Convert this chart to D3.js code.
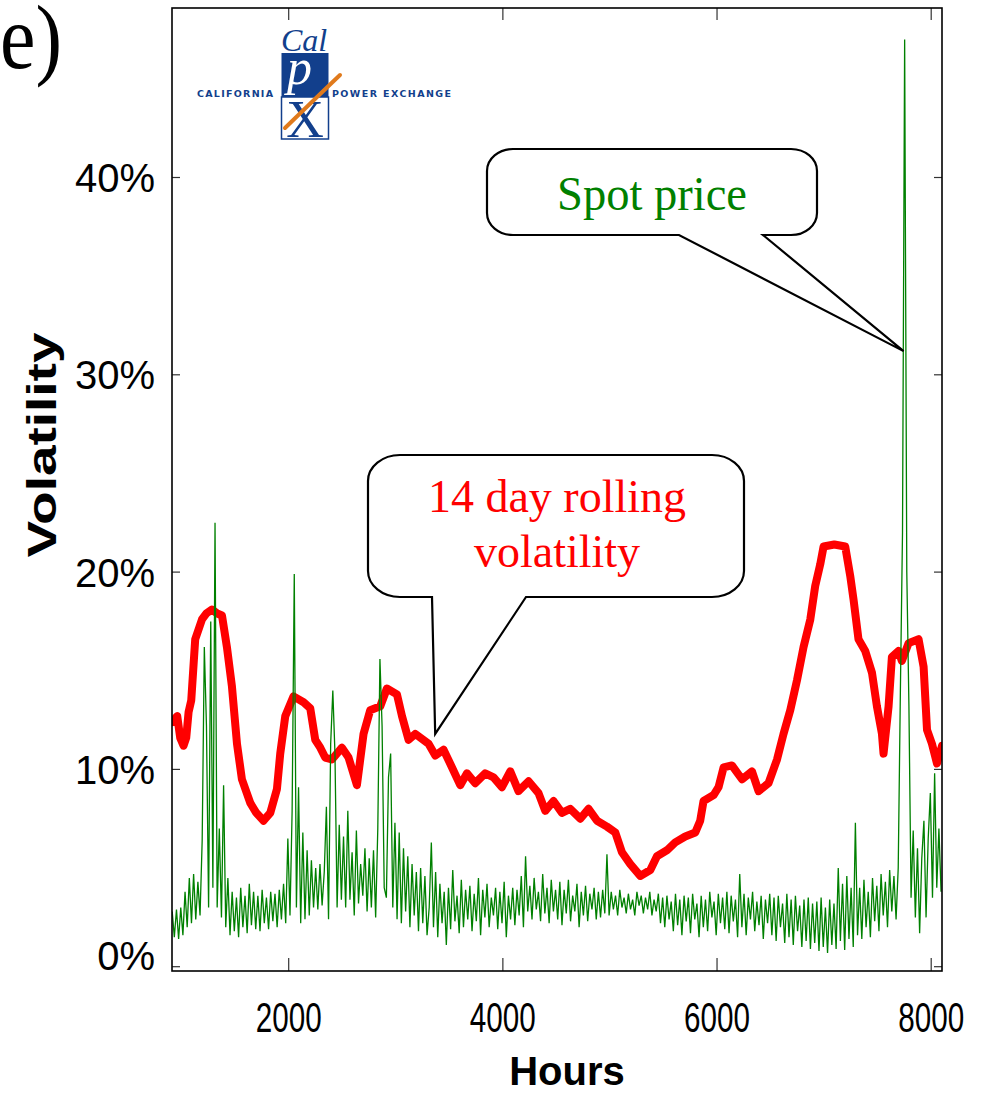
<!DOCTYPE html>
<html>
<head>
<meta charset="utf-8">
<script src="https://cdn.jsdelivr.net/npm/d3@7"></script>
<style>
  html, body { margin: 0; padding: 0; background: #fff; }
  svg { display: block; }
</style>
</head>
<body>
<svg id="chart" width="1008" height="1093"></svg>
<script>
// 14 day rolling volatility (%)
var rollingHours = [912, 959, 987, 1018, 1043, 1065, 1090, 1127, 1190, 1230, 1283, 1333, 1377, 1423, 1470,
  1517, 1563, 1641, 1697, 1765, 1828, 1890, 1921, 1968, 2045, 2139, 2201, 2248, 2295, 2341, 2404, 2497,
  2559, 2637, 2699, 2761, 2855, 2917, 3011, 3058, 3119, 3182, 3306, 3369, 3446, 3525, 3602, 3665, 3742,
  3835, 3913, 3991, 4069, 4146, 4240, 4333, 4396, 4473, 4552, 4629, 4723, 4800, 4879, 4972, 5050, 5112,
  5190, 5283, 5377, 5439, 5532, 5610, 5703, 5797, 5843, 5874, 5968, 6014, 6061, 6139, 6233, 6326, 6388,
  6481, 6560, 6621, 6684, 6746, 6808, 6871, 6917, 6964, 6995, 7095, 7197, 7244, 7275, 7321, 7384, 7447,
  7493, 7540, 7555, 7602, 7633, 7695, 7726, 7789, 7882, 7929, 7961, 8007, 8054, 8101];
var rollingVol = [12.4, 12.7, 11.6, 11.2, 11.6, 12.9, 13.5, 16.6, 17.6, 17.9, 18.1, 17.9, 17.8, 16.2, 14.2,
  11.3, 9.5, 8.3, 7.8, 7.4, 7.8, 9.0, 10.8, 12.7, 13.7, 13.4, 13.1, 11.5, 11.1, 10.6, 10.5, 11.1,
  10.6, 9.2, 11.8, 13.0, 13.2, 14.1, 13.8, 12.7, 11.5, 11.8, 11.3, 10.7, 11.0, 10.1, 9.2, 9.8, 9.3,
  9.8, 9.6, 9.1, 9.9, 8.9, 9.4, 8.8, 7.9, 8.4, 7.8, 8.0, 7.5, 8.0, 7.4, 7.1, 6.8, 5.8,
  5.2, 4.6, 4.9, 5.6, 5.9, 6.3, 6.6, 6.8, 7.4, 8.4, 8.7, 9.1, 10.1, 10.2, 9.5, 9.9, 8.9,
  9.3, 10.5, 11.8, 13.0, 14.5, 16.2, 17.6, 19.3, 20.4, 21.3, 21.4, 21.3, 19.8, 18.6, 16.6, 16.0, 14.9,
  13.2, 11.8, 10.8, 13.2, 15.7, 16.0, 15.5, 16.4, 16.6, 15.2, 12.0, 11.3, 10.3, 11.2];

// spot price volatility (%), one reading every 20 hours from hour 912
var spotFirstHour = 912;
var spotStepHours = 20;
var spotVol = [
  2.8, 1.5, 2.9, 1.4, 3.0, 1.6, 3.8, 2.0, 4.5, 2.2, 4.7, 2.4, 4.3, 2.6, 6.4, 16.2, 12.2, 3.0, 17.5, 4.0,
  22.5, 3.0, 7.0, 2.5, 9.2, 2.0, 4.5, 1.6, 3.8, 1.8, 3.5, 1.5, 4.0, 2.0, 3.6, 1.7, 4.2, 2.1, 3.8, 1.9,
  3.6, 1.8, 3.9, 2.2, 3.5, 1.9, 3.8, 2.3, 3.7, 2.0, 3.9, 2.4, 4.2, 2.2, 6.5, 2.6, 7.9, 19.9, 3.0, 9.1,
  2.2, 6.8, 2.4, 5.9, 2.6, 5.4, 3.0, 5.0, 2.9, 5.2, 3.1, 4.8, 8.1, 2.4, 11.3, 14.0, 10.8, 3.0, 7.2, 3.4,
  6.6, 3.0, 7.9, 3.4, 5.8, 2.6, 6.9, 3.2, 5.2, 3.6, 6.0, 2.8, 5.5, 3.0, 5.9, 2.5, 7.0, 15.6, 12.2, 4.0,
  3.5, 9.6, 10.8, 3.0, 7.3, 2.4, 6.8, 2.2, 6.0, 2.8, 5.6, 2.0, 5.2, 2.6, 4.8, 1.8, 5.0, 2.2, 4.6, 1.6,
  3.0, 6.3, 2.0, 4.8, 1.5, 4.2, 2.2, 3.8, 1.1, 4.0, 1.9, 4.9, 2.3, 3.6, 1.7, 4.4, 2.0, 3.9, 2.4, 4.1,
  1.8, 3.7, 2.3, 4.5, 1.6, 3.9, 2.5, 4.2, 2.0, 3.5, 2.6, 4.0, 1.9, 3.8, 2.2, 4.3, 1.5, 3.6, 2.4, 4.0,
  2.1, 3.9, 2.6, 4.6, 2.0, 5.6, 2.8, 4.1, 2.4, 4.5, 2.9, 3.8, 2.3, 4.7, 2.7, 4.0, 2.2, 4.4, 2.8, 3.9,
  2.4, 4.3, 2.1, 3.9, 2.7, 4.4, 2.3, 3.6, 2.8, 4.2, 2.0, 3.8, 2.6, 4.1, 2.3, 3.7, 2.9, 4.0, 2.4, 3.8,
  2.5, 3.9, 2.7, 5.7, 2.6, 3.8, 2.9, 3.6, 2.6, 3.9, 3.0, 3.5, 2.7, 3.7, 2.9, 3.4, 2.6, 3.8, 3.1, 3.6,
  2.7, 3.5, 2.9, 3.8, 2.6, 3.4, 2.8, 3.7, 2.2, 3.5, 2.0, 3.6, 2.4, 3.3, 1.8, 3.7, 2.1, 3.4, 1.6, 3.6,
  2.3, 3.5, 1.7, 3.7, 2.4, 3.2, 1.5, 3.6, 2.0, 3.4, 1.8, 3.8, 2.5, 3.3, 1.6, 3.7, 2.2, 3.5, 1.9, 3.8,
  1.7, 3.6, 2.3, 3.4, 1.5, 4.7, 2.0, 3.7, 1.6, 3.5, 2.4, 3.8, 1.8, 3.3, 2.1, 3.6, 1.4, 3.4, 2.2, 3.7,
  1.6, 3.5, 1.3, 3.6, 2.0, 3.2, 1.2, 3.7, 1.5, 3.4, 1.1, 3.6, 1.8, 3.1, 1.0, 3.4, 1.3, 3.5, 0.9, 3.2,
  1.2, 3.3, 0.8, 3.5, 1.0, 3.0, 0.7, 3.4, 1.1, 3.2, 0.9, 5.0, 1.3, 4.2, 0.85, 4.6, 1.4, 4.0, 1.0, 7.3,
  1.6, 4.0, 1.4, 4.4, 2.0, 3.8, 1.5, 4.5, 2.3, 4.1, 1.8, 4.7, 2.6, 4.3, 2.0, 4.9, 2.8, 4.6, 2.4, 5.0,
  13.9, 22.0, 47.0, 20.0, 13.2, 3.5, 6.9, 2.5, 6.0, 1.7, 5.5, 7.4, 2.5, 6.5, 8.8, 3.5, 9.8, 4.0, 7.0, 3.8
];

var xTicks = [2000, 4000, 6000, 8000];
var yTicks = [0, 10, 20, 30, 40];

(function() {
  'use strict';

  var svg = d3.select("#chart");
  var plot = {left: 172, right: 942, top: 8, bottom: 971};

  var x = d3.scaleLinear().domain([2000, 8000]).range([288.7, 931.2]);
  var y = d3.scaleLinear().domain([0, 40]).range([966.7, 177.5]);

  svg.append("rect").attr("width", 1008).attr("height", 1093).attr("fill", "#fff");

  svg.append("clipPath").attr("id", "clip")
    .append("rect")
    .attr("x", plot.left).attr("y", plot.top)
    .attr("width", plot.right - plot.left).attr("height", plot.bottom - plot.top);

  // ticks, all pointing inward
  var axes = svg.append("g").attr("stroke", "#333").attr("stroke-width", 1.2);
  xTicks.forEach(function(t) {
    axes.append("line").attr("x1", x(t)).attr("x2", x(t)).attr("y1", plot.bottom).attr("y2", plot.bottom - 13);
    axes.append("line").attr("x1", x(t)).attr("x2", x(t)).attr("y1", plot.top).attr("y2", plot.top + 12);
  });
  yTicks.forEach(function(t) {
    axes.append("line").attr("x1", plot.left).attr("x2", plot.left + 8).attr("y1", y(t)).attr("y2", y(t));
    axes.append("line").attr("x1", plot.right).attr("x2", plot.right - 8).attr("y1", y(t)).attr("y2", y(t));
  });

  svg.append("g")
    .selectAll("text")
    .data(yTicks)
    .join("text")
    .attr("x", 155)
    .attr("y", function(d) { return y(d) + (d === 0 ? -11 : 0); })
    .attr("dy", "0.36em")
    .attr("text-anchor", "end")
    .style("font", "40px 'Liberation Sans', Arial, sans-serif")
    .text(function(d) { return d + "%"; });

  svg.append("g")
    .selectAll("text")
    .data(xTicks)
    .join("text")
    .attr("x", function(d) { return x(d); })
    .attr("y", 1032)
    .attr("text-anchor", "middle")
    .attr("textLength", 66)
    .attr("lengthAdjust", "spacingAndGlyphs")
    .style("font", "43px 'Liberation Sans', Arial, sans-serif")
    .text(function(d) { return d; });

  svg.append("text")
    .attr("x", 567).attr("y", 1085)
    .attr("text-anchor", "middle")
    .style("font", "bold 40px 'Liberation Sans', Arial, sans-serif")
    .text("Hours");

  svg.append("text")
    .attr("transform", "translate(56,445) rotate(-90)")
    .attr("text-anchor", "middle")
    .attr("textLength", 225)
    .attr("lengthAdjust", "spacingAndGlyphs")
    .style("font", "bold 40px 'Liberation Sans', Arial, sans-serif")
    .text("Volatility");

  svg.append("text")
    .attr("x", 0).attr("y", 68)
    .attr("textLength", 62)
    .attr("lengthAdjust", "spacingAndGlyphs")
    .style("font", "90px 'Liberation Serif', 'Times New Roman', serif")
    .text("e)");

  // series
  var rolling = rollingHours.map(function(h, i) { return {h: h, v: rollingVol[i]}; });
  var spot = spotVol.map(function(v, i) { return {h: spotFirstHour + i * spotStepHours, v: v}; });

  var line = d3.line()
    .x(function(d) { return x(d.h); })
    .y(function(d) { return y(d.v); });

  var series = svg.append("g").attr("clip-path", "url(#clip)");
  series.append("path")
    .datum(rolling)
    .attr("d", line)
    .attr("fill", "none")
    .attr("stroke", "#ff0000")
    .attr("stroke-width", 8)
    .attr("stroke-linejoin", "round")
    .attr("stroke-linecap", "round");
  series.append("path")
    .datum(spot)
    .attr("d", line)
    .attr("fill", "none")
    .attr("stroke", "#008000")
    .attr("stroke-width", 1.3);

  // frame
  svg.append("rect")
    .attr("x", plot.left).attr("y", plot.top)
    .attr("width", plot.right - plot.left).attr("height", plot.bottom - plot.top)
    .attr("fill", "none").attr("stroke", "#000").attr("stroke-width", 1.6);

  // callouts: rounded box with a wedge under it
  function callout(b, tail) {
    var rx = b.rx, ry = b.ry;
    var d = "M" + (b.x0 + rx) + "," + b.y0 +
      "H" + (b.x1 - rx) +
      "A" + rx + "," + ry + " 0 0 1 " + b.x1 + "," + (b.y0 + ry) +
      "V" + (b.y1 - ry) +
      "A" + rx + "," + ry + " 0 0 1 " + (b.x1 - rx) + "," + b.y1 +
      "H" + tail.right +
      "L" + tail.tipX + "," + tail.tipY +
      "L" + tail.left + "," + b.y1 +
      "H" + (b.x0 + rx) +
      "A" + rx + "," + ry + " 0 0 1 " + b.x0 + "," + (b.y1 - ry) +
      "V" + (b.y0 + ry) +
      "A" + rx + "," + ry + " 0 0 1 " + (b.x0 + rx) + "," + b.y0 + "Z";
    svg.append("path")
      .attr("d", d)
      .attr("fill", "#fff")
      .attr("stroke", "#000")
      .attr("stroke-width", 2.2);
  }

  callout({x0: 487, x1: 817, y0: 149, y1: 235, rx: 26, ry: 22},
    {left: 679, right: 763, tipX: x(7742), tipY: y(31.2)});
  svg.append("text")
    .attr("x", 652).attr("y", 210)
    .attr("text-anchor", "middle")
    .attr("textLength", 190)
    .attr("lengthAdjust", "spacingAndGlyphs")
    .attr("fill", "#008000")
    .style("font", "48px 'Liberation Serif', 'Times New Roman', serif")
    .text("Spot price");

  callout({x0: 368, x1: 744, y0: 455, y1: 597, rx: 32, ry: 26},
    {left: 432, right: 526, tipX: x(3368), tipY: y(11.8)});
  var red = svg.append("g")
    .attr("fill", "#ff0000")
    .attr("text-anchor", "middle")
    .style("font", "46px 'Liberation Serif', 'Times New Roman', serif");
  red.append("text").attr("x", 557).attr("y", 512).text("14 day rolling");
  red.append("text").attr("x", 557).attr("y", 567).text("volatility");

  // CalPX logo
  var blue = "#123f8c";
  var logo = svg.append("g");
  logo.append("rect").attr("x", 281.5).attr("y", 53).attr("width", 47).attr("height", 44).attr("fill", blue);
  logo.append("rect").attr("x", 281.5).attr("y", 97).attr("width", 47).attr("height", 42)
    .attr("fill", "#fff").attr("stroke", blue).attr("stroke-width", 1.5);
  logo.append("text").attr("x", 281).attr("y", 51)
    .attr("fill", blue)
    .style("font", "italic 32px 'Liberation Serif', 'Times New Roman', serif")
    .text("Cal");
  logo.append("text").attr("x", 287).attr("y", 84)
    .attr("fill", "#fff")
    .style("font", "italic 50px 'Liberation Serif', 'Times New Roman', serif")
    .text("p");
  logo.append("text").attr("x", 305).attr("y", 137)
    .attr("text-anchor", "middle")
    .attr("fill", blue)
    .style("font", "52px 'Liberation Serif', 'Times New Roman', serif")
    .text("X");
  logo.append("path")
    .attr("d", "M340,75 Q318,96 285,128")
    .attr("fill", "none")
    .attr("stroke", "#e07a1c")
    .attr("stroke-width", 4)
    .attr("stroke-linecap", "round");
  logo.append("text").attr("x", 197).attr("y", 96.5)
    .attr("textLength", 76)
    .attr("fill", blue)
    .style("font", "bold 9.5px 'DejaVu Sans', sans-serif")
    .text("CALIFORNIA");
  logo.append("text").attr("x", 332).attr("y", 96.5)
    .attr("textLength", 119)
    .attr("fill", blue)
    .style("font", "bold 9.5px 'DejaVu Sans', sans-serif")
    .text("POWER EXCHANGE");
}());
</script>
</body>
</html>
